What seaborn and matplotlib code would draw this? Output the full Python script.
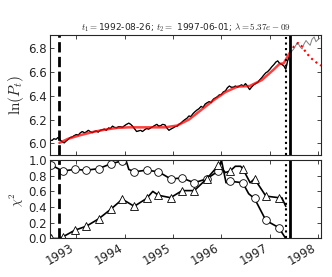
import pandas as pd
import numpy as np
import seaborn as sns
import matplotlib.pyplot as plt

# price series, semi-monthly (1st and 15th), Jun 1992 .. Jan 1998
price_vals = [
    6.02, 6.03, 6.025, 6.04, 6.035, 6.05, 6.03, 6.015, 6.005, 6.02, 6.035, 6.05,
    6.055, 6.065, 6.075, 6.07, 6.09, 6.10, 6.09, 6.095, 6.11, 6.10, 6.09, 6.10,
    6.105, 6.095, 6.11, 6.115, 6.12, 6.11, 6.13, 6.125, 6.145, 6.135, 6.13, 6.14,
    6.14, 6.135, 6.15, 6.16, 6.17, 6.16, 6.145, 6.125, 6.10, 6.105, 6.11, 6.10,
    6.115, 6.125, 6.12, 6.13, 6.14, 6.15, 6.16, 6.145, 6.15, 6.16, 6.155, 6.13,
    6.11, 6.12, 6.13, 6.14, 6.145, 6.16, 6.17, 6.185, 6.20, 6.21, 6.23, 6.225,
    6.25, 6.265, 6.28, 6.29, 6.31, 6.30, 6.33, 6.34, 6.35, 6.34, 6.37, 6.38,
    6.39, 6.405, 6.41, 6.43, 6.44, 6.465, 6.48, 6.47, 6.47, 6.48, 6.47, 6.48,
    6.49, 6.48, 6.50, 6.48, 6.45, 6.47, 6.49, 6.50, 6.51, 6.53, 6.55, 6.57,
    6.59, 6.60, 6.62, 6.64, 6.66, 6.68, 6.69, 6.67, 6.66, 6.65, 6.62, 6.69,
    6.74, 6.77, 6.79, 6.82, 6.84, 6.81, 6.79, 6.83, 6.86, 6.84, 6.82, 6.87,
    6.89, 6.85, 6.87, 6.88,
]
price_dates = pd.date_range('1992-06-01', periods=len(price_vals), freq='SMS')

# fitted model inside the window and its extrapolation
fit_dates = ['1992-08-26', '1992-11-01', '1993-02-01', '1993-05-01', '1993-08-01',
             '1993-11-01', '1994-02-01', '1994-05-01', '1994-08-01', '1994-11-01',
             '1995-02-01', '1995-05-01', '1995-08-01', '1995-11-01', '1996-02-01',
             '1996-05-01', '1996-08-01', '1996-11-01', '1997-02-01', '1997-03-15',
             '1997-04-15', '1997-05-01', '1997-06-01']
fit_vals = [6.005, 6.04, 6.07, 6.095, 6.115, 6.13, 6.135, 6.135, 6.135, 6.135,
            6.15, 6.20, 6.28, 6.36, 6.43, 6.475, 6.48, 6.53, 6.62, 6.665,
            6.67, 6.70, 6.76]
ext_dates = ['1997-06-01', '1997-07-01', '1997-08-01', '1997-09-01', '1997-10-01',
             '1997-11-01', '1997-12-01', '1998-01-01', '1998-01-22']
ext_vals = [6.76, 6.81, 6.84, 6.81, 6.76, 6.72, 6.69, 6.665, 6.65]

# chi^2 curves, markers at quarterly points
circ_dates = ['1992-06-20', '1992-09-20', '1992-12-20', '1993-03-18', '1993-06-18',
              '1993-09-16', '1993-12-14', '1994-01-10', '1994-02-01', '1994-03-14',
              '1994-06-15', '1994-09-13', '1994-12-13', '1995-03-11', '1995-06-10',
              '1995-09-12', '1995-12-09', '1996-01-01', '1996-02-05', '1996-03-07',
              '1996-06-10', '1996-07-25', '1996-09-07', '1996-12-02', '1997-03-08',
              '1997-05-01']
circ_vals = [0.94, 0.86, 0.88, 0.87, 0.89, 0.95, 0.99, 1.0, 0.88, 0.85,
             0.87, 0.85, 0.76, 0.77, 0.71, 0.76, 0.86, 1.0, 0.71, 0.73,
             0.71, 0.57, 0.51, 0.23, 0.14, 0.0]
circ_marks = [0, 1, 2, 3, 4, 5, 6, 9, 10, 11, 12, 13, 14, 15, 16, 19, 20, 22, 23, 24]

tri_dates = ['1992-06-20', '1992-09-01', '1992-09-20', '1992-12-20', '1993-03-18',
             '1993-06-18', '1993-09-16', '1993-12-14', '1994-03-14', '1994-06-15',
             '1994-08-01', '1994-09-13', '1994-12-13', '1995-03-11', '1995-06-10',
             '1995-09-12', '1995-12-09', '1996-02-01', '1996-03-07', '1996-04-15',
             '1996-05-25', '1996-06-10', '1996-08-05', '1996-09-07', '1996-12-02',
             '1997-03-08', '1997-04-01', '1997-05-01']
tri_vals = [0.0, 0.0, 0.02, 0.105, 0.157, 0.25, 0.37, 0.50, 0.41, 0.51,
            0.60, 0.55, 0.52, 0.61, 0.61, 0.76, 0.93, 0.84, 0.86, 0.92,
            0.92, 0.89, 0.71, 0.76, 0.54, 0.52, 0.52, 0.41]
tri_marks = [0, 2, 3, 4, 5, 6, 7, 8, 9, 11, 12, 13, 14, 15, 16, 18, 21, 23, 24, 25]

t1 = pd.Timestamp('1992-08-26')
t2 = pd.Timestamp('1997-06-01')
t_dot = pd.Timestamp('1997-05-01')
title = r'$t_1 = $1992-08-26; $t_2 = $ 1997-06-01; $\lambda = 5.37e-09$'

sns.set_style('ticks')
plt.rcParams['font.family'] = ['DejaVu Sans']
plt.rcParams['mathtext.fontset'] = 'cm'
plt.rcParams['xtick.direction'] = 'in'
plt.rcParams['ytick.direction'] = 'in'
plt.rcParams['xtick.top'] = True
plt.rcParams['ytick.right'] = True

price = pd.DataFrame({'date': price_dates, 'val': price_vals})
inwin = price[price['date'] <= t2]
fit = pd.DataFrame({'date': pd.to_datetime(fit_dates), 'val': fit_vals})
ext = pd.DataFrame({'date': pd.to_datetime(ext_dates), 'val': ext_vals})
circ = pd.DataFrame({'date': pd.to_datetime(circ_dates), 'val': circ_vals})
tri = pd.DataFrame({'date': pd.to_datetime(tri_dates), 'val': tri_vals})

fig = plt.figure(figsize=(3.32, 2.77), dpi=100)
ax1 = fig.add_axes([0.1506, 0.4422, 0.8163, 0.4314])
ax2 = fig.add_axes([0.1506, 0.139, 0.8163, 0.2834])

sns.lineplot(data=price, x='date', y='val', ax=ax1, color='gray', lw=0.7, estimator=None)
sns.lineplot(data=inwin, x='date', y='val', ax=ax1, color='black', lw=0.9, estimator=None)
sns.lineplot(data=fit, x='date', y='val', ax=ax1, color='red', lw=1.8, alpha=0.75, estimator=None)
sns.lineplot(data=ext, x='date', y='val', ax=ax1, color='red', lw=1.5, ls=':', estimator=None)

sns.lineplot(data=circ, x='date', y='val', ax=ax2, color='black', lw=1.2, estimator=None,
             marker='o', markevery=circ_marks, ms=5.5, mfc='white', mec='black', mew=0.6)
sns.lineplot(data=tri, x='date', y='val', ax=ax2, color='black', lw=1.2, estimator=None,
             marker='^', markevery=tri_marks, ms=5.5, mfc='white', mec='black', mew=0.6)

xlim = (pd.Timestamp('1992-06-16'), pd.Timestamp('1998-01-22'))
for ax in (ax1, ax2):
    ax.axvline(t1, color='black', lw=2, ls='--')
    ax.axvline(t_dot, color='black', lw=1.5, ls=':')
    ax.axvline(t2, color='black', lw=2)
    ax.set_xlim(xlim)
    ax.set_xlabel('')
    ax.tick_params(labelsize=8.5, length=3, width=0.6, pad=2)
    for s in ax.spines.values():
        s.set_linewidth(0.8)

ax1.set_ylim(5.908, 6.906)
ax1.set_yticks([6.0, 6.2, 6.4, 6.6, 6.8])
ax1.set_xticklabels([])
ax1.set_ylabel(r'$\ln(P_t)$', fontsize=11, labelpad=2)
ax1.set_title(title, fontsize=6.5, pad=3)

ax2.set_ylim(0, 1.0)
ax2.set_yticks([0.0, 0.2, 0.4, 0.6, 0.8, 1.0])
ax2.set_ylabel(r'$\chi^2$', fontsize=9, labelpad=2)
years = pd.to_datetime(['1993-01-01', '1994-01-01', '1995-01-01', '1996-01-01',
                        '1997-01-01', '1998-01-01'])
for ax in (ax1, ax2):
    ax.set_xticks(years)
ax2.set_xticklabels([str(d.year) for d in years], rotation=30, ha='right')

fig.savefig('out.png', dpi=100)
